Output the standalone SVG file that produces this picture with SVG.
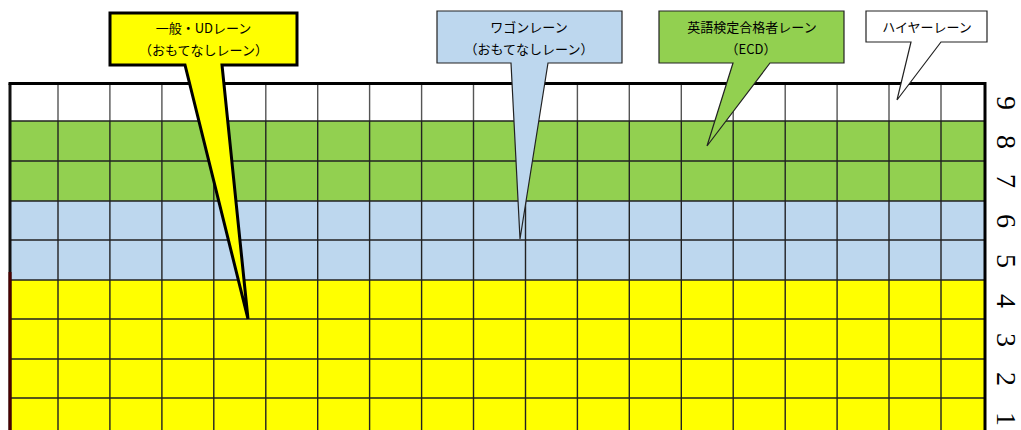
<svg xmlns="http://www.w3.org/2000/svg" width="1021" height="430" viewBox="0 0 1021 430">
<style>
.grid{stroke:#222;stroke-width:1.4;fill:none}
.gridw{stroke:#555;stroke-width:1.4;fill:none}
.lbl{font-family:"Noto Sans CJK JP","Liberation Sans",sans-serif;font-size:13px;fill:#000;text-anchor:middle}
.num{font-family:"Liberation Serif",serif;font-size:28px;fill:#000}
</style>
<rect width="1021" height="430" fill="#fff"/>
<g id="lanes">
<rect x="10" y="84" width="975" height="37" fill="#fff"/>
<rect x="10" y="121" width="975" height="80" fill="#92D050"/>
<rect x="10" y="201" width="975" height="79" fill="#BDD7EE"/>
<rect x="10" y="280" width="975" height="150" fill="#FFFF00"/>
</g>
<g id="grid">
<path class="gridw" d="M58,84V121M109.9,84V121M161.9,84V121M213.8,84V121M265.8,84V121M317.7,84V121M369.6,84V121M421.6,84V121M473.5,84V121M525.5,84V121M577.4,84V121M629.3,84V121M681.3,84V121M733.2,84V121M785.2,84V121M837.1,84V121M889,84V121M941,84V121"/>
<path class="grid" d="M58,121V430M109.9,121V430M161.9,121V430M213.8,121V430M265.8,121V430M317.7,121V430M369.6,121V430M421.6,121V430M473.5,121V430M525.5,121V430M577.4,121V430M629.3,121V430M681.3,121V430M733.2,121V430M785.2,121V430M837.1,121V430M889,121V430M941,121V430"/>
<path class="grid" d="M10,121H985M10,161H985M10,201H985M10,240H985M10,280H985M10,319H985M10,359H985M10,398H985" stroke-width="1.6"/>
<path d="M10,83.5V430" stroke="#111" stroke-width="3" fill="none"/>
<path d="M10,272V430" stroke="#4a0000" stroke-width="3" fill="none"/>
<path d="M8.5,83.5H985V430" stroke="#000" stroke-width="3" fill="none"/>
</g>
<g id="row-numbers">
<text class="num" x="996.5" y="96" rotate="90">9</text>
<text class="num" x="996.5" y="135" rotate="90">8</text>
<text class="num" x="996.5" y="174" rotate="90">7</text>
<text class="num" x="996.5" y="214" rotate="90">6</text>
<text class="num" x="996.5" y="254" rotate="90">5</text>
<text class="num" x="996.5" y="294" rotate="90">4</text>
<text class="num" x="996.5" y="333" rotate="90">3</text>
<text class="num" x="996.5" y="372" rotate="90">2</text>
<text class="num" x="996.5" y="412" rotate="90">1</text>
</g>
<g id="callout-general">
<path d="M110,13H297V65H222L248,319L185,65H110Z" fill="#FFFF00" stroke="#000" stroke-width="3" stroke-linejoin="miter"/>
<text class="lbl" x="203.5" y="33">一般・UDレーン</text>
<text class="lbl" x="203.5" y="55">（おもてなしレーン）</text>
</g>
<g id="callout-wagon">
<path d="M437,11H622V63H548L520,239L511,63H437Z" fill="#BDD7EE" stroke="#222" stroke-width="1.2"/>
<text class="lbl" x="529" y="32">ワゴンレーン</text>
<text class="lbl" x="529" y="54">（おもてなしレーン）</text>
</g>
<g id="callout-ecd">
<path d="M659,11H844V63H770L707,146L733,63H659Z" fill="#92D050" stroke="#222" stroke-width="1.2"/>
<text class="lbl" x="752" y="32">英語検定合格者レーン</text>
<text class="lbl" x="751" y="54">（ECD）</text>
</g>
<g id="callout-hire">
<path d="M866,11H987V42H941L897,100L911,42H866Z" fill="#fff" stroke="#222" stroke-width="1.2"/>
<text class="lbl" x="927" y="32">ハイヤーレーン</text>
</g>
</svg>
